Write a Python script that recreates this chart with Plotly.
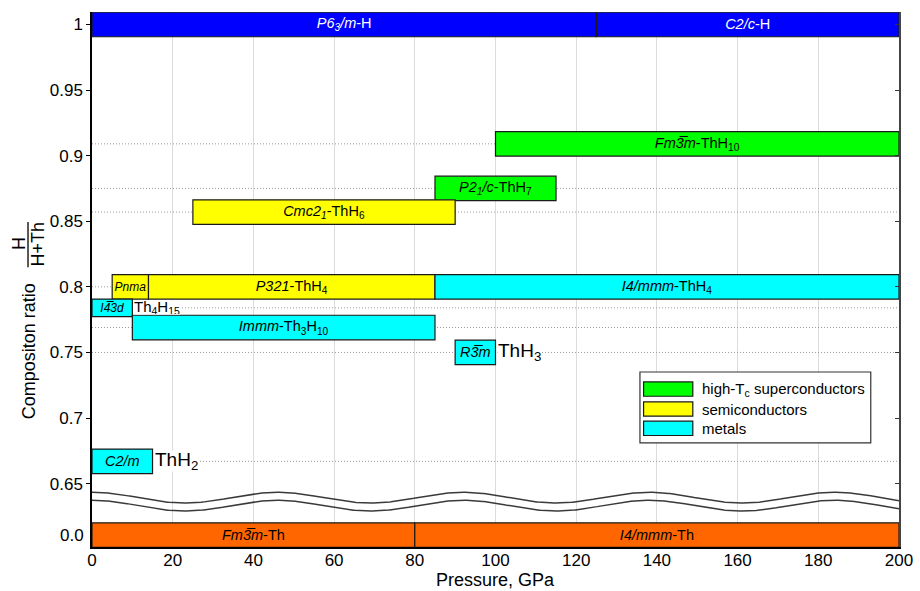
import numpy as np
import plotly.graph_objects as go

# ---- data: pressure ranges (GPa) and H/(H+Th) composition of each phase ----
BAR3 = "3\u0305"  # 3 with an overbar (rotoinversion axis)

h_phases = ["<i>P6<sub>3</sub>/m</i>-H", "<i>C2/c</i>-H"]
h_start = [0, 125]
h_end = [125, 200]

th_phases = [f"<i>Fm{BAR3}m</i>-Th", "<i>I4/mmm</i>-Th"]
th_start = [0, 80]
th_end = [80, 200]

sc_phases = [f"<i>Fm{BAR3}m</i>-ThH<sub>10</sub>", "<i>P2<sub>1</sub>/c</i>-ThH<sub>7</sub>"]
sc_start = [100, 85]
sc_end = [200, 115]
sc_comp = [0.909, 0.875]

semi_phases = ["<i>Cmc2<sub>1</sub></i>-ThH<sub>6</sub>", "<i>Pnma</i>", "<i>P321</i>-ThH<sub>4</sub>"]
semi_start = [25, 5, 14]
semi_end = [90, 14, 85]
semi_comp = [0.857, 0.8, 0.8]

metal_phases = ["<i>I4/mmm</i>-ThH<sub>4</sub>", "<i>I4\u03053d</i>",
                "<i>Immm</i>-Th<sub>3</sub>H<sub>10</sub>", f"<i>R{BAR3}m</i>", "<i>C2/m</i>"]
metal_start = [85, 0, 10, 90, 0]
metal_end = [200, 10, 85, 100, 15]
metal_comp = [0.8, 0.784, 0.769, 0.75, 0.667]

# compound names written beside a metal bar (index into metal_* lists)
side_names = {1: "Th<sub>4</sub>H<sub>15</sub>", 3: "ThH<sub>3</sub>", 4: "ThH<sub>2</sub>"}

y_tickvals = [0.65, 0.7, 0.75, 0.8, 0.85, 0.9, 0.95, 1.0]
y_ticktext = ["0.65", "0.7", "0.75", "0.8", "0.85", "0.9", "0.95", "1"]
x_tickvals = list(range(0, 201, 20))

# ---- styling ----
FONT = "Arial, Liberation Sans, sans-serif"
BAR_H = 0.0187          # bar thickness in composition units
THIN_H = 0.0134         # thinner bar used for Th4H15
H_Y = 1.0               # pure hydrogen row
BREAK_Y = 0.6108        # row of pure thorium, below the axis break
Y_RANGE = [0.6017, 1.0095]
SMALL_LABELS = {"<i>Pnma</i>", "<i>I4\u03053d</i>"}
EDGE = dict(color="#1a1a1a", width=1.2)

fig = go.Figure()


def add_bars(names, start, end, comp, color, textcolor="black", thick=None):
    widths = thick if thick is not None else [BAR_H] * len(names)
    fig.add_trace(go.Bar(
        orientation="h",
        y=comp,
        base=start,
        x=[e - s for s, e in zip(start, end)],
        width=widths,
        marker=dict(color=color, line=EDGE),
        text=names,
        textposition="inside",
        insidetextanchor="middle",
        textangle=0,
        constraintext="none",
        textfont=dict(family=FONT, color=textcolor,
                      size=[12 if n in SMALL_LABELS else 14.5 for n in names]),
        hoverinfo="skip",
        showlegend=False,
    ))


# dotted guide lines at every hydride composition (between grid and bars)
for c in sorted(set(sc_comp + semi_comp + metal_comp)):
    fig.add_shape(type="line", xref="x", yref="y", x0=0, x1=200, y0=c, y1=c,
                  line=dict(color="#9a9a9a", width=1, dash="1px,2px"), layer="between")

add_bars(h_phases, h_start, h_end, [H_Y] * len(h_phases), "#0000FF", textcolor="white")
add_bars(th_phases, th_start, th_end, [BREAK_Y] * len(th_phases), "#FF6600")
add_bars(sc_phases, sc_start, sc_end, sc_comp, "#00FF00")
add_bars(semi_phases, semi_start, semi_end, semi_comp, "#FFFF00")
add_bars(metal_phases, metal_start, metal_end, metal_comp, "#00FFFF",
         thick=[THIN_H if i == 1 else BAR_H for i in range(len(metal_phases))])

# axis-break marker: two parallel wavy lines
wx = np.linspace(0, 200, 600)
for centre in (0.6393, 0.6332):
    fig.add_trace(go.Scatter(x=wx, y=centre + 0.0041 * np.cos(2 * np.pi * wx / 46.0),
                             mode="lines", line=dict(color="#3a3a3a", width=1.5),
                             hoverinfo="skip", showlegend=False))

# right-hand frame with inward ticks
fig.add_trace(go.Scatter(x=[None], y=[None], yaxis="y2", showlegend=False, hoverinfo="skip"))

annotations = []
for i, name in side_names.items():
    big = i != 1
    annotations.append(dict(
        x=metal_end[i], y=metal_comp[i], xref="x", yref="y", text=name,
        showarrow=False, xanchor="left", yanchor="middle", xshift=1,
        height=20 if big else 13, valign="middle",
        font=dict(family=FONT, size=19 if big else 15, color="black"),
        bgcolor="white", borderpad=0))

# label of the thorium row below the break
annotations.append(dict(x=0, y=BREAK_Y, xref="paper", yref="y", text="0.0",
                        showarrow=False, xanchor="right", yanchor="middle", xshift=-6,
                        font=dict(family=FONT, size=17, color="black")))

TITLE_FONT = dict(family=FONT, size=18, color="black")

# x-axis title
annotations.append(dict(x=0.5, y=-0.0625, xref="paper", yref="paper", text="Pressure, GPa",
                        showarrow=False, xanchor="center", yanchor="middle", font=TITLE_FONT))

# y-axis title: "Compositon ratio" with the H/(H+Th) fraction
annotations += [
    dict(x=-0.078, y=0.366, xref="paper", yref="paper", text="Compositon ratio",
         textangle=-90, showarrow=False, xanchor="center", yanchor="middle", font=TITLE_FONT),
    dict(x=-0.0905, y=0.568, xref="paper", yref="paper", text="H",
         textangle=-90, showarrow=False, xanchor="center", yanchor="middle", font=TITLE_FONT),
    dict(x=-0.0665, y=0.566, xref="paper", yref="paper", text="H+Th",
         textangle=-90, showarrow=False, xanchor="center", yanchor="middle", font=TITLE_FONT),
]
fig.add_shape(type="line", xref="paper", yref="paper", x0=-0.0793, x1=-0.0793,
              y0=0.523, y1=0.6075, line=dict(color="black", width=1.3))

# legend drawn as a framed box with colour swatches
fig.add_shape(type="rect", xref="x", yref="y", x0=135.8, x1=193.0, y0=0.681, y1=0.7351,
              fillcolor="white", line=dict(color="#333333", width=1.2), layer="above")
legend_items = [("high-T<sub>c</sub> superconductors", "#00FF00"),
                ("semiconductors", "#FFFF00"), ("metals", "#00FFFF")]
row_tops = [0.7275, 0.7123, 0.6976]
for (label, col), top in zip(legend_items, row_tops):
    fig.add_shape(type="rect", xref="x", yref="y", x0=136.7, x1=148.9,
                  y0=top - 0.0109, y1=top, fillcolor=col,
                  line=dict(color="#1a1a1a", width=1.2), layer="above")
    annotations.append(dict(x=150.6, y=top - 0.0055, xref="x", yref="y", text=label,
                            showarrow=False, xanchor="left", yanchor="middle",
                            font=dict(family=FONT, size=15, color="black")))

fig.update_layout(
    width=920, height=591,
    margin=dict(l=92, r=21, t=12, b=44, autoexpand=False),
    paper_bgcolor="white", plot_bgcolor="white",
    barmode="overlay",
    font=dict(family=FONT, color="black"),
    annotations=annotations,
    xaxis=dict(range=[0, 200], tickvals=x_tickvals, showgrid=True, gridcolor="#dcdcdc",
               gridwidth=1, zeroline=False, showline=True, linecolor="black", linewidth=1.5,
               ticks="", automargin=False, ticklabelstandoff=-3,
               tickfont=dict(family=FONT, size=17, color="black")),
    yaxis=dict(range=Y_RANGE, tickvals=y_tickvals, ticktext=y_ticktext, showgrid=False,
               zeroline=False, showline=True, linecolor="black", linewidth=1.5,
               ticks="outside", ticklen=4, tickcolor="black", automargin=False,
               tickfont=dict(family=FONT, size=17, color="black")),
    yaxis2=dict(range=Y_RANGE, overlaying="y", side="right", tickvals=y_tickvals,
                showticklabels=False, showgrid=False, zeroline=False, showline=True,
                linecolor="#444444", linewidth=1.5, ticks="inside", ticklen=4,
                tickcolor="#333333", automargin=False),
)

fig.write_html("out.html")
